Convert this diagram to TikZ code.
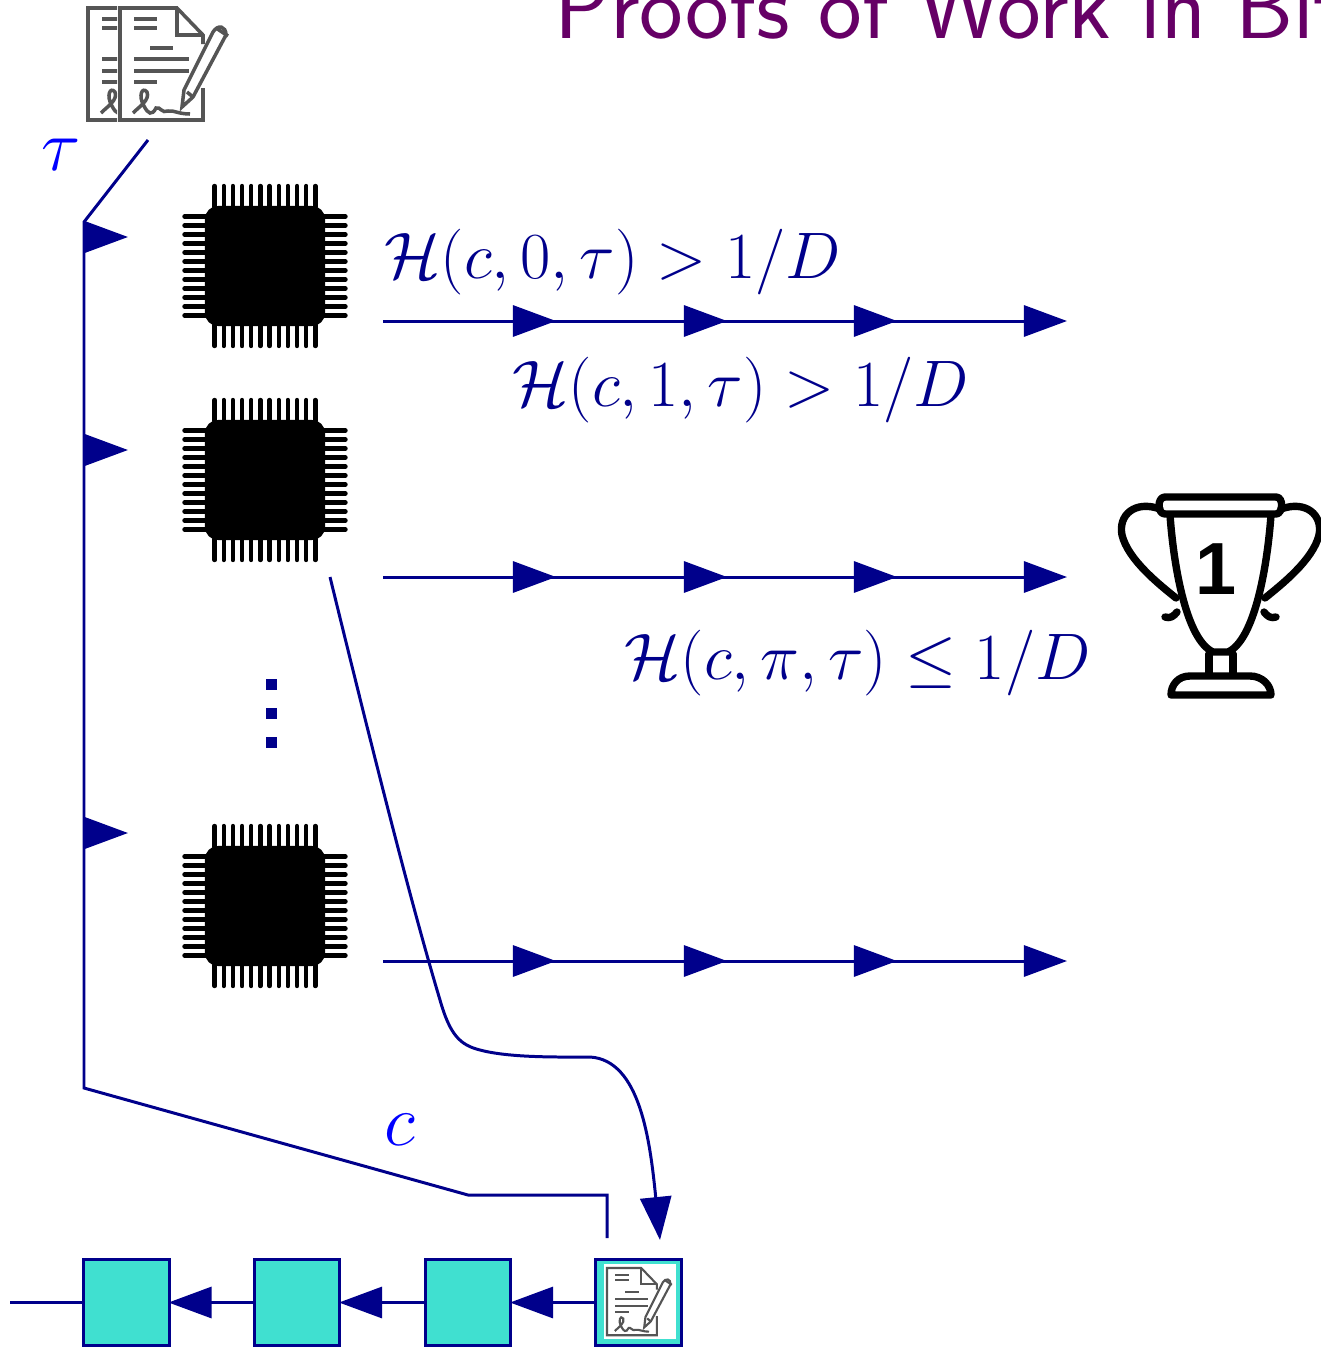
\documentclass[tikz,border=0pt]{standalone}
\usepackage{amsmath,amssymb}
\usepackage{fontspec}
\newfontfamily\rankfont{Liberation Sans}
\usetikzlibrary{arrows.meta}

\definecolor{navyblue}{RGB}{0,0,139}
\definecolor{titlepurple}{RGB}{102,0,102}
\definecolor{blockfill}{RGB}{64,224,208}
\definecolor{icongray}{RGB}{85,85,85}

\tikzset{
	contract/.pic={
		\draw[icongray,line join=miter] (83,36) -- (83,27) -- (57,0) -- (0,0) -- (0,112) -- (83,112) -- (83,80);
		\draw[icongray] (57,0) -- (57,27) -- (83,27);
		\foreach \y/\a/\b in {11/14/37,20/14/37,40/30/53,51/14/69,63/14/69,74/14/37}
		\draw[icongray] (\a,\y) -- (\b,\y);
		\draw[icongray] (13,105) .. controls (20,98) and (30,92) .. (27,84) .. controls (22,78) and (18,88) .. (24,98) .. controls (28,106) and (32,108) .. (36,100) .. controls (40,98) and (42,106) .. (48,103) .. controls (54,102) and (58,106) .. (70,106);
		\draw[icongray] (62,99) -- (64,82) -- (93,24) .. controls (98,16) and (106,18) .. (106,27) -- (73,89) -- cycle;
		\draw[icongray] (67,84) -- (73,89);
		\draw[icongray] (96,20) -- (108,28);
	},
	chippins/.pic={
		\foreach \i in {0,...,11}{
			\draw[pin] (-50.4+\i*9.16,-59) -- (-50.4+\i*9.16,-80);
			\draw[pin] (-50.4+\i*9.16,59) -- (-50.4+\i*9.16,80);
			\draw[pin] (-59,-49.5+\i*9) -- (-80.5,-49.5+\i*9);
			\draw[pin] (59,-49.5+\i*9) -- (80.5,-49.5+\i*9);
		}
	}
}

\begin{document}
\begin{tikzpicture}[
		x=0.01cm, y=-0.01cm,
		line width=0.85pt,
		every node/.style={inner sep=0pt},
		flow/.style={draw=navyblue, -{Triangle[length=0.43cm,width=0.31cm]}},
		link/.style={draw=navyblue},
		chipbody/.style={fill=black, rounded corners=0.13cm, minimum size=1.2cm},
		pin/.style={draw=black, line width=1.25pt, line cap=round},
		blockbox/.style={draw=navyblue, fill=blockfill, minimum size=0.85cm},
		formula/.style={font=\LARGE, text=navyblue, anchor=base west, scale=1.083},
		symbol/.style={font=\huge, text=blue},
		title/.style={font=\sffamily\fontsize{26.4}{32}\selectfont, text=titlepurple, anchor=base west},
		cup/.style={draw=black, line width=2.1pt, line join=round, line cap=round}
		]
		
		\useasboundingbox (0,0) rectangle (1321,1348);
		\clip (0,0) rectangle (1321,1348);
		
		% -------------------------------------------------
		% Title
		% -------------------------------------------------
		\node[title] (headline) at (553,38) {Proofs of Work in Bitcoin};
		
		% -------------------------------------------------
		% Transactions
		% -------------------------------------------------
		\begin{scope}
			\clip (80,0) rectangle (117,130);
			\pic[line width=1pt] at (88,8) {contract};
		\end{scope}
		\pic[line width=1pt] at (120,8) {contract};
		\node[symbol] (taulabel) at (61,155) {$\tau$};
		
		% -------------------------------------------------
		% Chips
		% -------------------------------------------------
		\node[chipbody] (chipA) at (265,266) {};
		\node[chipbody] (chipB) at (265,480) {};
		\node[chipbody] (chipC) at (265,906) {};
		\foreach \c in {chipA,chipB,chipC}
		\pic at (\c) {chippins};
		
		\foreach \y in {684,713,742}
		\fill[navyblue] (266,\y-5.5) rectangle (277,\y+5.5);
		
		% -------------------------------------------------
		% Bus from the tip to the chips
		% -------------------------------------------------
		\coordinate (busa) at (148,140);
		\coordinate (busb) at (84,222);
		\coordinate (busc) at (84,1088);
		\coordinate (busd) at (468,1195);
		\coordinate (buse) at (607,1195);
		\coordinate (busf) at (607,1238);
		\draw[link] (busa) -- (busb) -- (busc) -- (busd) -- (buse) -- (busf);
		\foreach \y in {237,450,833}{
			\coordinate (feed\y) at (84,\y);
			\coordinate (feedtip\y) at (128,\y);
			\draw[flow] (feed\y) -- (feedtip\y);
		}
		
		% -------------------------------------------------
		% Hash attempts
		% -------------------------------------------------
		\foreach \y in {321,577,961}{
			\coordinate (row\y) at (383,\y);
			\foreach \x in {556,727,897,1067}{
				\coordinate (rowtip\x) at (\x,\y);
				\draw[flow] (row\y) -- (rowtip\x);
			}
		}
		\node[formula] (tryzero) at (383,278) {$\mathcal{H}(c,0,\tau) > 1/D$};
		\node[formula] (tryone) at (511,406) {$\mathcal{H}(c,1,\tau) > 1/D$};
		\node[formula] (trywin) at (623,679) {$\mathcal{H}(c,\pi,\tau) \leq 1/D$};
		
		% -------------------------------------------------
		% Trophy
		% -------------------------------------------------
		\draw[cup] (1170,515) .. controls (1174,570) and (1187,640) .. (1213,652) -- (1228,652) .. controls (1254,640) and (1267,570) .. (1271,515);
		\draw[cup] (1165,514) -- (1276,514) .. controls (1283,514) and (1284,497) .. (1276,497) -- (1165,497) .. controls (1157,497) and (1157,514) .. (1165,514);
		\draw[cup] (1160,509) .. controls (1135,500) and (1118,515) .. (1122,535) .. controls (1128,560) and (1160,585) .. (1176,598);
		\draw[cup] (1281,509) .. controls (1306,500) and (1323,515) .. (1319,535) .. controls (1313,560) and (1281,585) .. (1265,598);
		\draw[cup] (1165,617) .. controls (1170,619) and (1174,616) .. (1177,612);
		\draw[cup] (1276,617) .. controls (1271,619) and (1267,616) .. (1264,612);
		\draw[cup] (1209,654) -- (1209,675);
		\draw[cup] (1233,654) -- (1233,675);
		\draw[cup] (1171,695) .. controls (1171,685) and (1178,676) .. (1190,676) -- (1250,676) .. controls (1262,676) and (1271,685) .. (1271,695) -- cycle;
		\node[font=\rankfont\bfseries\fontsize{21}{26}\selectfont] (rank) at (1216,569) {1};
		
		% -------------------------------------------------
		% Chain of blocks
		% -------------------------------------------------
		\node[blockbox] (blockA) at (126.5,1302.5) {};
		\node[blockbox] (blockB) at (297,1302.5) {};
		\node[blockbox] (blockC) at (468,1302.5) {};
		\node[blockbox] (blockD) at (638.5,1302.5) {};
		\fill[white] (604,1264) rectangle (676,1339);
		\pic[scale=0.6, line width=0.6pt] at (607,1268) {contract};
		
		\coordinate (chainend) at (10,1302.5);
		\draw[link] (chainend) -- (blockA);
		\foreach \a/\b in {blockB/blockA,blockC/blockB,blockD/blockC}
		\draw[flow, shorten >=-0.02cm] (\a) -- (\b);
		
		\node[symbol] (clabel) at (400,1130) {$c$};
		
		% -------------------------------------------------
		% Winning chip appends its block
		% -------------------------------------------------
		\coordinate (winstart) at (330,577);
		\coordinate (winend) at (660,1240);
		\draw[flow] (winstart) .. controls (370,740) and (410,900) .. (440,1000)
		.. controls (450,1035) and (460,1045) .. (480,1050)
		.. controls (510,1058) and (560,1057) .. (590,1057)
		.. controls (640,1060) and (650,1140) .. (winend);
		
	\end{tikzpicture}
\end{document}
